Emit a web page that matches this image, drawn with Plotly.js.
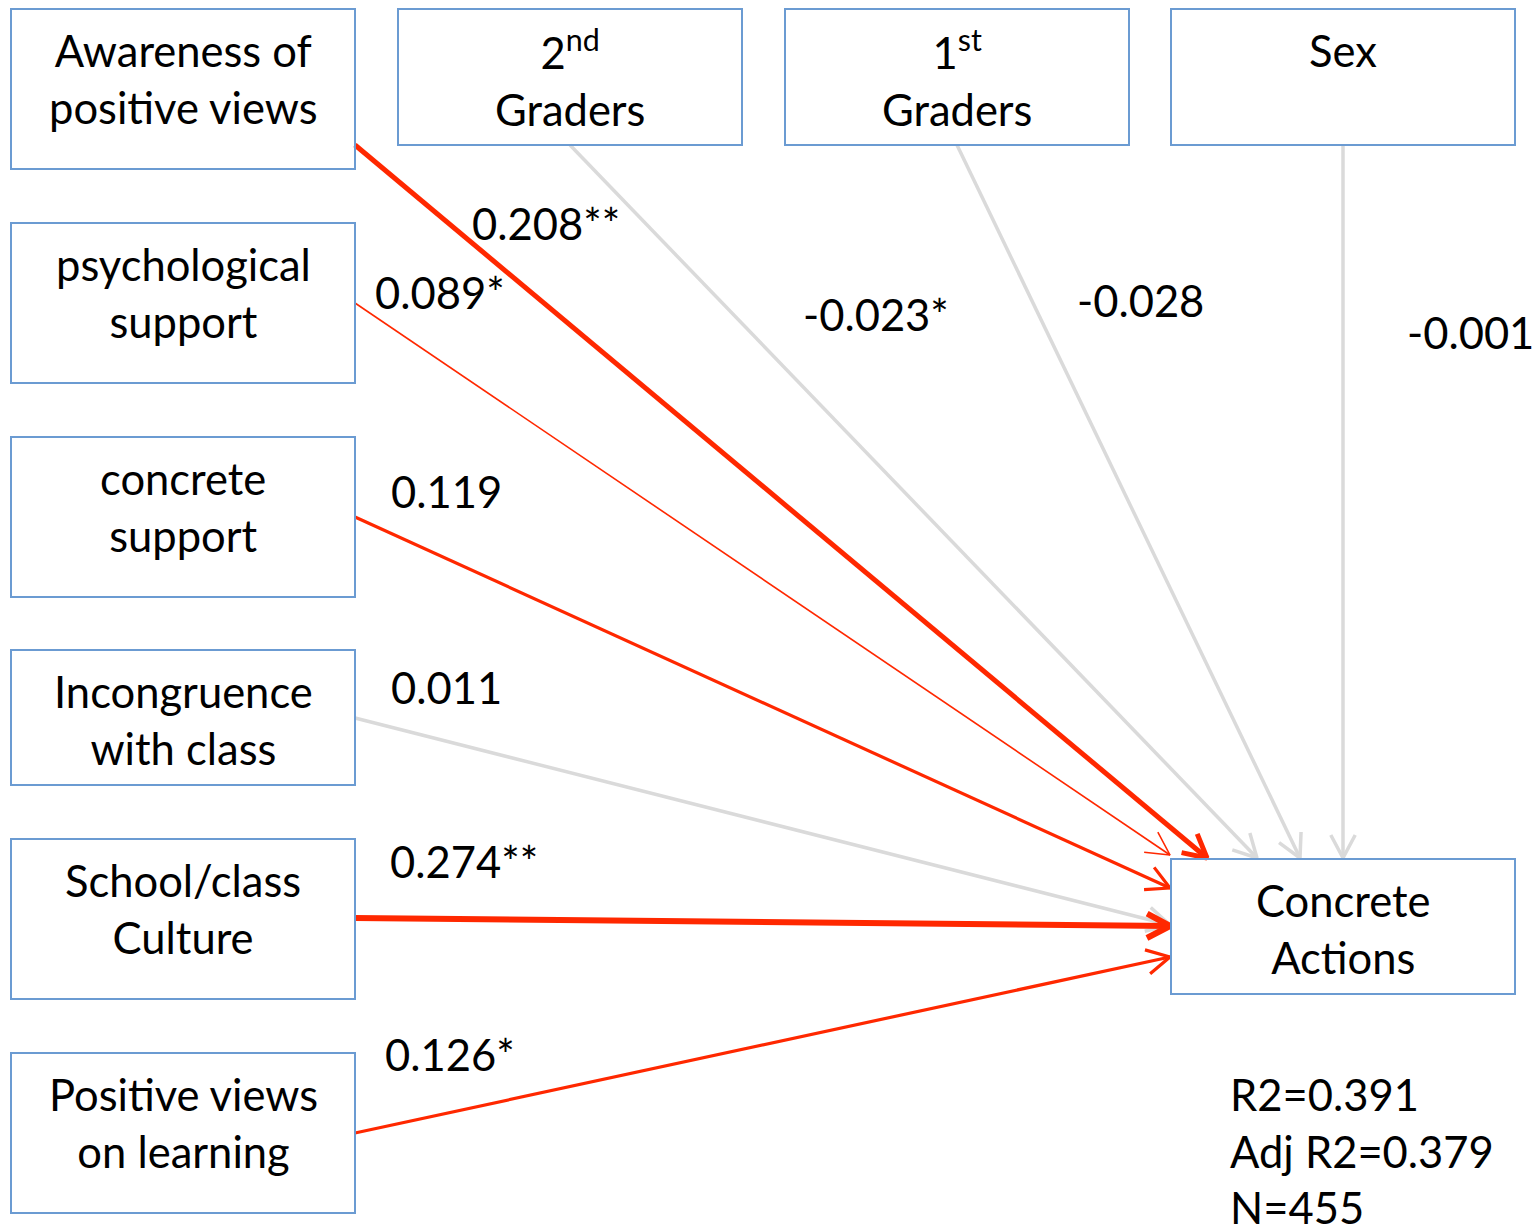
<!DOCTYPE html>
<html>
<head>
<meta charset="utf-8">
<script src="https://cdn.plot.ly/plotly-3.0.1.min.js"></script>
<style>html,body{margin:0;padding:0;background:#fff;}#chart{width:1537px;height:1230px;}</style>
</head>
<body>
<div id="chart"></div>
<script>
// ---------- DATA ----------
const predictors = ["Awareness of<br>positive views", "psychological<br>support", "concrete<br>support", "Incongruence<br>with class", "School/class<br>Culture", "Positive views<br>on learning"];
const predictorCoef = [0.208, 0.089, 0.119, 0.011, 0.274, 0.126];
const predictorSig = ["**", "*", "", "", "**", "*"];
const controls = ["2<sup>nd</sup><br>Graders", "1<sup>st</sup><br>Graders", "Sex"];
const controlCoef = [-0.023, -0.028, -0.001];
const controlSig = ["*", "", ""];
const outcome = "Concrete<br>Actions";
const fitStats = ["R2=0.391", "Adj R2=0.379", "N=455"];

// ---------- LAYOUT (positions / styles) ----------
const FONT = {family: "Lato, 'Open Sans', sans-serif", size: 43.5, color: "#000"};
const BOX_LINE = {color: "rgb(107,155,210)", width: 2};
const RED = "rgb(255,40,0)", GREY = "rgb(218,218,218)";

const predBoxes = [[11,9,355,169],[11,223,355,383],[11,437,355,597],[11,650,355,785],[11,839,355,999],[11,1053,355,1213]];
const ctrlBoxes = [[398,9,742,145],[785,9,1129,145],[1171,9,1515,145]];
const outBox = [1171,859,1515,994];

const predArrows = [[355,145,1207,858],[355,303,1170,855],[355,517,1170,888],[355,718,1170,925],[355,918,1170,926],[355,1133,1170,957]];
const predStyle = [[RED,5],[RED,1.6],[RED,3.2],[GREY,3.5],[RED,6],[RED,3.2]];
const predLabelPos = [[546,223],[440,292],[446,491],[446,687],[464,861],[450,1054]];
const ctrlArrows = [[570,145,1257,858],[957,145,1300,858],[1343,145,1343,858]];
const ctrlStyle = [[GREY,3.5],[GREY,3.5],[GREY,3.5]];
const ctrlLabelPos = [[876,314],[1140,300],[1470,332]];

const traces = [];
const shapes = [];
const annotations = [];

function arrow(a, style) {
  const [x0,y0,x1,y1] = a;
  const dx = x1-x0, dy = y1-y0, L = Math.hypot(dx,dy);
  const ux = dx/L, uy = dy/L;
  const h = 26, ang = 28*Math.PI/180;
  const c = Math.cos(ang), s = Math.sin(ang);
  const r1x = ux*c - uy*s, r1y = ux*s + uy*c;
  const r2x = ux*c + uy*s, r2y = -ux*s + uy*c;
  traces.push({
    type: "scatter", mode: "lines", hoverinfo: "skip",
    x: [x0, x1, null, x1 - h*r1x, x1, x1 - h*r2x],
    y: [y0, y1, null, y1 - h*r1y, y1, y1 - h*r2y],
    line: {color: style[0], width: style[1]}
  });
}

// grey arrows first so red ones are on top
const all = [];
predArrows.forEach((a,i) => all.push([a, predStyle[i]]));
ctrlArrows.forEach((a,i) => all.push([a, ctrlStyle[i]]));
all.filter(d => d[1][0] === GREY).forEach(d => arrow(d[0], d[1]));
all.filter(d => d[1][0] !== GREY).forEach(d => arrow(d[0], d[1]));

function box(b, text) {
  shapes.push({type: "rect", xref: "x", yref: "y", x0: b[0], y0: b[1], x1: b[2], y1: b[3],
    line: BOX_LINE, fillcolor: "rgba(255,255,255,0)", layer: "above"});
  const nLines = text.split("<br>").length;
  annotations.push({x: (b[0]+b[2])/2, y: b[1] + 41 + (nLines-1)*28, xref: "x", yref: "y",
    text: text, showarrow: false, xanchor: "center", yanchor: "middle", align: "center", font: FONT});
}
predictors.forEach((t,i) => box(predBoxes[i], t));
controls.forEach((t,i) => box(ctrlBoxes[i], t));
box(outBox, outcome);

predictorCoef.forEach((v,i) => annotations.push({x: predLabelPos[i][0], y: predLabelPos[i][1], xref: "x", yref: "y",
  text: v.toFixed(3) + predictorSig[i], showarrow: false, xanchor: "center", yanchor: "middle", font: FONT}));
controlCoef.forEach((v,i) => annotations.push({x: ctrlLabelPos[i][0], y: ctrlLabelPos[i][1], xref: "x", yref: "y",
  text: v.toFixed(3) + controlSig[i], showarrow: false, xanchor: "center", yanchor: "middle", font: FONT}));

annotations.push({x: 1228, y: 1150, xref: "x", yref: "y", text: fitStats.join("<br>"), showarrow: false,
  xanchor: "left", yanchor: "middle", align: "left", font: FONT});

const layout = {
  width: 1537, height: 1230,
  margin: {l: 0, r: 0, t: 0, b: 0, pad: 0},
  paper_bgcolor: "#fff", plot_bgcolor: "#fff",
  showlegend: false, hovermode: false,
  xaxis: {range: [0, 1537], visible: false, fixedrange: true},
  yaxis: {range: [1230, 0], visible: false, fixedrange: true},
  shapes: shapes, annotations: annotations
};
Plotly.newPlot("chart", traces, layout, {displayModeBar: false, staticPlot: true});
</script>
</body>
</html>
